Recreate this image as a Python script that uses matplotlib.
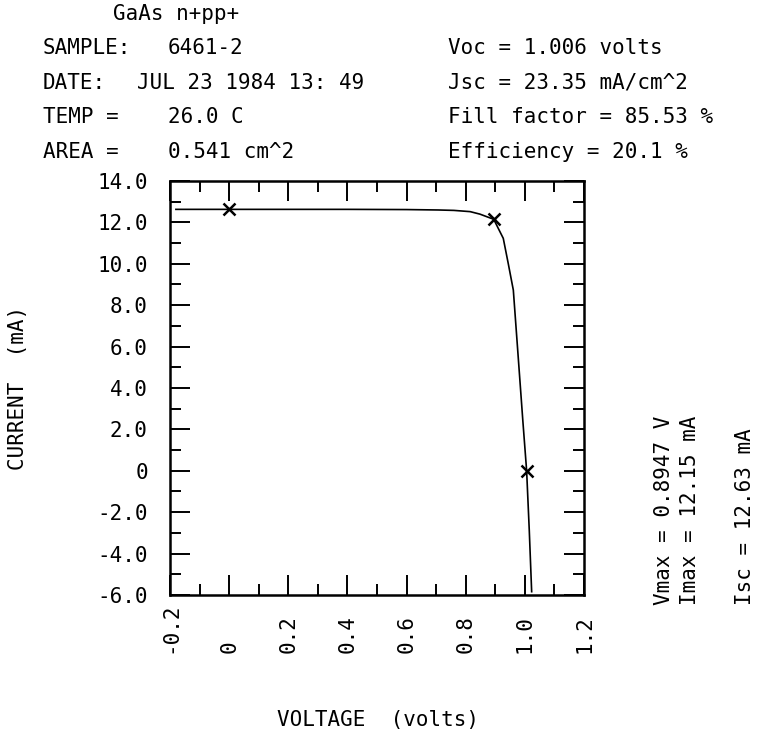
import matplotlib
matplotlib.use("Agg")
from matplotlib import pyplot as plt
from matplotlib.ticker import MultipleLocator

# I-V curve
voltage = [-0.18, 0.0, 0.2, 0.4, 0.6, 0.707, 0.76, 0.815, 0.848, 0.8947, 0.927,
           0.944, 0.961, 0.978, 0.993, 1.006, 1.015, 1.023]
current = [12.63, 12.63, 12.63, 12.63, 12.62, 12.6, 12.58, 12.52, 12.4, 12.15, 11.23,
           10.0, 8.73, 5.4, 2.45, 0.0, -2.9, -5.84]

# marked points: Isc, max power point, Voc
mark_v = [0.0, 0.8947, 1.006]
mark_i = [12.63, 12.15, 0.0]

xticks = [-0.2, 0, 0.2, 0.4, 0.6, 0.8, 1.0, 1.2]
xlabels = ["-0.2", "0", "0.2", "0.4", "0.6", "0.8", "1.0", "1.2"]
yticks = [14, 12, 10, 8, 6, 4, 2, 0, -2, -4, -6]
ylabels = ["14.0", "12.0", "10.0", "8.0", "6.0", "4.0", "2.0", "0", "-2.0", "-4.0", "-6.0"]

left_info = [("GaAs n+pp+", None), ("SAMPLE:", "6461-2"), ("DATE:", "JUL 23 1984 13: 49"),
             ("TEMP =", "26.0 C"), ("AREA =", "0.541 cm^2")]
right_info = ["Voc = 1.006 volts", "Jsc = 23.35 mA/cm^2",
              "Fill factor = 85.53 %", "Efficiency = 20.1 %"]
side_info = ["Vmax = 0.8947 V", "Imax = 12.15 mA", "Isc = 12.63 mA"]

plt.rcParams['font.family'] = ['DejaVu Sans Mono', 'DejaVu Sans']
FS = 15
W, H = 778, 748
fig = plt.figure(figsize=(W / 100, H / 100), dpi=100)

def fx(px):
    return px / W

def fy(py):
    return 1 - py / H

ax = fig.add_axes([fx(170), fy(595), 414 / W, 414 / H])
ax.plot(voltage, current, color="black", lw=1.2)
ax.plot(mark_v, mark_i, ls="none", marker="x", color="black", ms=9, mew=1.8)

ax.set_xlim(-0.2, 1.2)
ax.set_ylim(-6, 14)
ax.set_xticks(xticks)
ax.set_xticklabels(xlabels)
ax.set_yticks(yticks)
ax.set_yticklabels(ylabels)
ax.xaxis.set_minor_locator(MultipleLocator(0.1))
ax.yaxis.set_minor_locator(MultipleLocator(1))
for s in ax.spines.values():
    s.set_linewidth(1.8)
ax.tick_params(which="both", direction="in", top=True, right=True, width=1.4, labelsize=FS)
ax.tick_params(which="major", length=14.5)
ax.tick_params(which="minor", length=8)
ax.tick_params(axis="y", pad=16)
ax.tick_params(axis="x", pad=42)
plt.setp(ax.get_xticklabels(), rotation=90, rotation_mode="anchor", ha="left", va="center")

# header block
fig.text(fx(113), fy(14), left_info[0][0], fontsize=FS, va="center")
val_x = [168, 137, 168, 168]
for k, (lab, val) in enumerate(left_info[1:]):
    yy = fy(48 + 34.7 * k)
    fig.text(fx(43), yy, lab, fontsize=FS, va="center")
    fig.text(fx(val_x[k]), yy, val, fontsize=FS, va="center")
for k, s in enumerate(right_info):
    fig.text(fx(448), fy(48 + 34.7 * k), s, fontsize=FS, va="center")

# rotated side notes
for xp, s in zip([664, 690, 745], side_info):
    fig.text(fx(xp), fy(605), s, fontsize=FS, rotation=90, rotation_mode="anchor",
             ha="left", va="center")

fig.text(fx(18), fy(388), "CURRENT  (mA)", fontsize=FS, rotation=90, ha="center", va="center")
fig.text(fx(378), fy(720), "VOLTAGE  (volts)", fontsize=FS, ha="center", va="center")

fig.savefig("out.png", dpi=100)
